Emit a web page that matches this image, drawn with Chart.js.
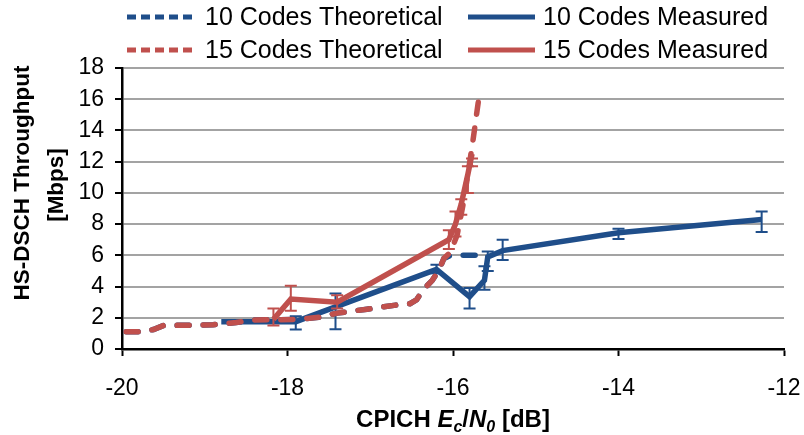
<!DOCTYPE html>
<html>
<head>
<meta charset="utf-8">
<script src="https://cdn.jsdelivr.net/npm/chart.js@4.4.1/dist/chart.umd.min.js"></script>
<style>
  html, body { margin: 0; padding: 0; background: #fff; }
  #wrap { width: 804px; height: 435px; }
</style>
</head>
<body>
<div id="wrap"><canvas id="chart" width="804" height="435"></canvas></div>
<script>
// Axis ticks
const xTicks = [-20, -18, -16, -14, -12];
const yTicks = [0, 2, 4, 6, 8, 10, 12, 14, 16, 18];

// 10 codes theoretical (follows 15 codes curve until it saturates at 6 Mbps)
const tenTheoX = [-19.95, -19.75, -19.62, -19.5, -18.9, -18.62, -18.45, -17.85, -17.6, -17.4, -17.04, -16.64, -16.52, -16.44, -16.36, -16.25, -16.17, -16.11, -16.03, -15.6];
const tenTheoY = [1.1, 1.1, 1.25, 1.5, 1.55, 1.7, 1.85, 1.9, 2.05, 2.3, 2.55, 2.85, 2.9, 3.15, 3.8, 4.4, 5.05, 5.8, 6.0, 6.0];

// 15 codes theoretical
const fifTheoX = [-19.95, -19.75, -19.62, -19.5, -18.9, -18.62, -18.45, -17.85, -17.6, -17.4, -17.04, -16.64, -16.52, -16.44, -16.36, -16.25, -16.17, -16.11, -16.03, -15.95, -15.88, -15.82, -15.76, -15.69];
const fifTheoY = [1.1, 1.1, 1.25, 1.5, 1.55, 1.7, 1.85, 1.9, 2.05, 2.3, 2.55, 2.85, 2.9, 3.15, 3.8, 4.4, 5.05, 5.8, 6.2, 7.3, 9.2, 11.2, 13.3, 16.0];

// 10 codes measured, with error bar limits
const tenMeasX = [-18.8, -17.9, -17.42, -16.2, -15.8, -15.62, -15.58, -15.4, -14.0, -12.27];
const tenMeasY = [1.75, 1.75, 2.7, 5.1, 3.35, 4.4, 5.9, 6.3, 7.45, 8.3];
const tenErrLo = [null, 1.25, 1.26, 4.85, 2.6, 3.8, 5.0, 5.7, 7.05, 7.5];
const tenErrHi = [null, 2.1, 3.55, 5.4, 3.9, 5.3, 6.25, 7.0, 7.7, 8.8];

// 15 codes measured, with error bar limits
const fifMeasX = [-18.17, -17.96, -17.4, -16.05, -15.97, -15.9, -15.82, -15.77];
const fifMeasY = [1.9, 3.2, 3.0, 7.0, 8.0, 9.3, 11.2, 12.5];
const fifErrLo = [1.5, 2.45, 2.6, 6.4, 7.2, 8.6, 10.0, 11.7];
const fifErrHi = [2.6, 4.05, 3.45, 7.6, 8.8, 9.6, 11.7, 12.2];

const BLUE = '#1f4e8a';
const RED = '#c0504d';
const FONT = "'Liberation Sans', Arial, sans-serif";

function pts(xs, ys) {
  return xs.map((x, i) => ({ x: x, y: ys[i] }));
}

// Error bars drawn right after their dataset
const errorBars = {
  id: 'errorBars',
  afterDatasetDraw(chart, args) {
    const ds = chart.data.datasets[args.index];
    if (!ds.errLo) return;
    const ctx = chart.ctx;
    const xs = chart.scales.x, ys = chart.scales.y;
    ctx.save();
    ctx.strokeStyle = ds.borderColor;
    ctx.lineWidth = 2;
    ds.data.forEach((p, i) => {
      if (ds.errLo[i] == null) return;
      const px = xs.getPixelForValue(p.x);
      const lo = ys.getPixelForValue(ds.errLo[i]);
      const hi = ys.getPixelForValue(ds.errHi[i]);
      ctx.beginPath();
      ctx.moveTo(px, lo); ctx.lineTo(px, hi);
      ctx.moveTo(px - 6, lo); ctx.lineTo(px + 6, lo);
      ctx.moveTo(px - 6, hi); ctx.lineTo(px + 6, hi);
      ctx.stroke();
    });
    ctx.restore();
  }
};

// Legend (2 x 2) and axis titles
const decorations = {
  id: 'decorations',
  afterDraw(chart) {
    const ctx = chart.ctx;
    const ds = chart.data.datasets;
    const items = [
      { i: 0, x1: 127, x2: 197, tx: 205, y: 17 },
      { i: 1, x1: 468, x2: 535, tx: 543, y: 17 },
      { i: 2, x1: 127, x2: 197, tx: 205, y: 50 },
      { i: 3, x1: 468, x2: 535, tx: 543, y: 50 }
    ];
    ctx.save();
    items.forEach(it => {
      const d = ds[it.i];
      ctx.strokeStyle = d.borderColor;
      ctx.lineWidth = 5;
      ctx.lineCap = 'butt';
      ctx.setLineDash(d.borderDash && d.borderDash.length ? [9, 5] : []);
      ctx.beginPath();
      ctx.moveTo(it.x1, it.y); ctx.lineTo(it.x2, it.y);
      ctx.stroke();
      ctx.setLineDash([]);
      ctx.fillStyle = '#000';
      ctx.font = '25px ' + FONT;
      ctx.textBaseline = 'middle';
      ctx.textAlign = 'left';
      ctx.fillText(d.label, it.tx, it.y + 1);
    });

    // y title, two lines, rotated
    ctx.save();
    ctx.translate(23, 183);
    ctx.rotate(-Math.PI / 2);
    ctx.font = 'bold 22.5px ' + FONT;
    ctx.textAlign = 'center';
    ctx.textBaseline = 'middle';
    ctx.fillText('HS-DSCH Throughput', 0, 0);
    ctx.restore();
    ctx.save();
    ctx.translate(57, 185);
    ctx.rotate(-Math.PI / 2);
    ctx.font = 'bold 22.5px ' + FONT;
    ctx.textAlign = 'center';
    ctx.textBaseline = 'middle';
    ctx.fillText('[Mbps]', 0, 0);
    ctx.restore();

    // x title with italic subscripts
    const parts = [
      { t: 'CPICH ', f: 'bold 24px ', dy: 0 },
      { t: 'E', f: 'italic bold 24px ', dy: 0 },
      { t: 'c', f: 'italic bold 16px ', dy: 5 },
      { t: '/', f: 'bold 24px ', dy: 0 },
      { t: 'N', f: 'italic bold 24px ', dy: 0 },
      { t: '0', f: 'italic bold 16px ', dy: 5 },
      { t: ' [dB]', f: 'bold 24px ', dy: 0 }
    ];
    let total = 0;
    parts.forEach(p => { ctx.font = p.f + FONT; p.w = ctx.measureText(p.t).width; total += p.w; });
    let x = 453 - total / 2;
    ctx.textAlign = 'left';
    ctx.textBaseline = 'alphabetic';
    parts.forEach(p => {
      ctx.font = p.f + FONT;
      ctx.fillText(p.t, x, 427 + p.dy);
      x += p.w;
    });
    ctx.restore();
  }
};

new Chart(document.getElementById('chart'), {
  type: 'line',
  data: {
    datasets: [
      {
        label: '10 Codes Theoretical',
        data: pts(tenTheoX, tenTheoY),
        borderColor: BLUE,
        borderWidth: 5.5,
        borderDash: [12, 14],
        borderCapStyle: 'round',
        pointRadius: 0,
        tension: 0,
        order: 3
      },
      {
        label: '10 Codes Measured',
        data: pts(tenMeasX, tenMeasY),
        borderColor: BLUE,
        borderWidth: 5.5,
        pointRadius: 0,
        tension: 0,
        errLo: tenErrLo,
        errHi: tenErrHi,
        order: 2
      },
      {
        label: '15 Codes Theoretical',
        data: pts(fifTheoX, fifTheoY),
        borderColor: RED,
        borderWidth: 5.5,
        borderDash: [12, 14],
        borderCapStyle: 'round',
        pointRadius: 0,
        tension: 0,
        order: 0
      },
      {
        label: '15 Codes Measured',
        data: pts(fifMeasX, fifMeasY),
        borderColor: RED,
        borderWidth: 5.5,
        pointRadius: 0,
        tension: 0,
        errLo: fifErrLo,
        errHi: fifErrHi,
        order: 1
      }
    ]
  },
  options: {
    responsive: false,
    animation: false,
    devicePixelRatio: 1,
    layout: { padding: { left: 0, right: 20, top: 68, bottom: 0 } },
    plugins: {
      legend: { display: false },
      tooltip: { enabled: false }
    },
    scales: {
      x: {
        type: 'linear',
        min: -20,
        max: -12,
        afterBuildTicks: s => { s.ticks = xTicks.map(v => ({ value: v })); },
        afterFit: s => { s.height = 86; s.paddingLeft = 0; s.paddingRight = 0; },
        border: { color: '#000', width: 2.5 },
        grid: { drawOnChartArea: false, drawTicks: true, tickLength: 7, tickColor: '#000', tickWidth: 2 },
        ticks: { color: '#000', padding: 19, font: { family: FONT, size: 23 }, maxRotation: 0 }
      },
      y: {
        min: 0,
        max: 18,
        afterBuildTicks: s => { s.ticks = yTicks.map(v => ({ value: v })); },
        afterFit: s => { s.width = 122; s.paddingTop = 0; s.paddingBottom = 0; },
        border: { color: '#000', width: 2.5 },
        grid: { color: '#a3a3a3', lineWidth: 2, drawTicks: true, tickLength: 7, tickColor: '#000', tickWidth: 2 },
        ticks: { color: '#000', padding: 11, font: { family: FONT, size: 23 } }
      }
    }
  },
  plugins: [errorBars, decorations]
});
</script>
</body>
</html>
